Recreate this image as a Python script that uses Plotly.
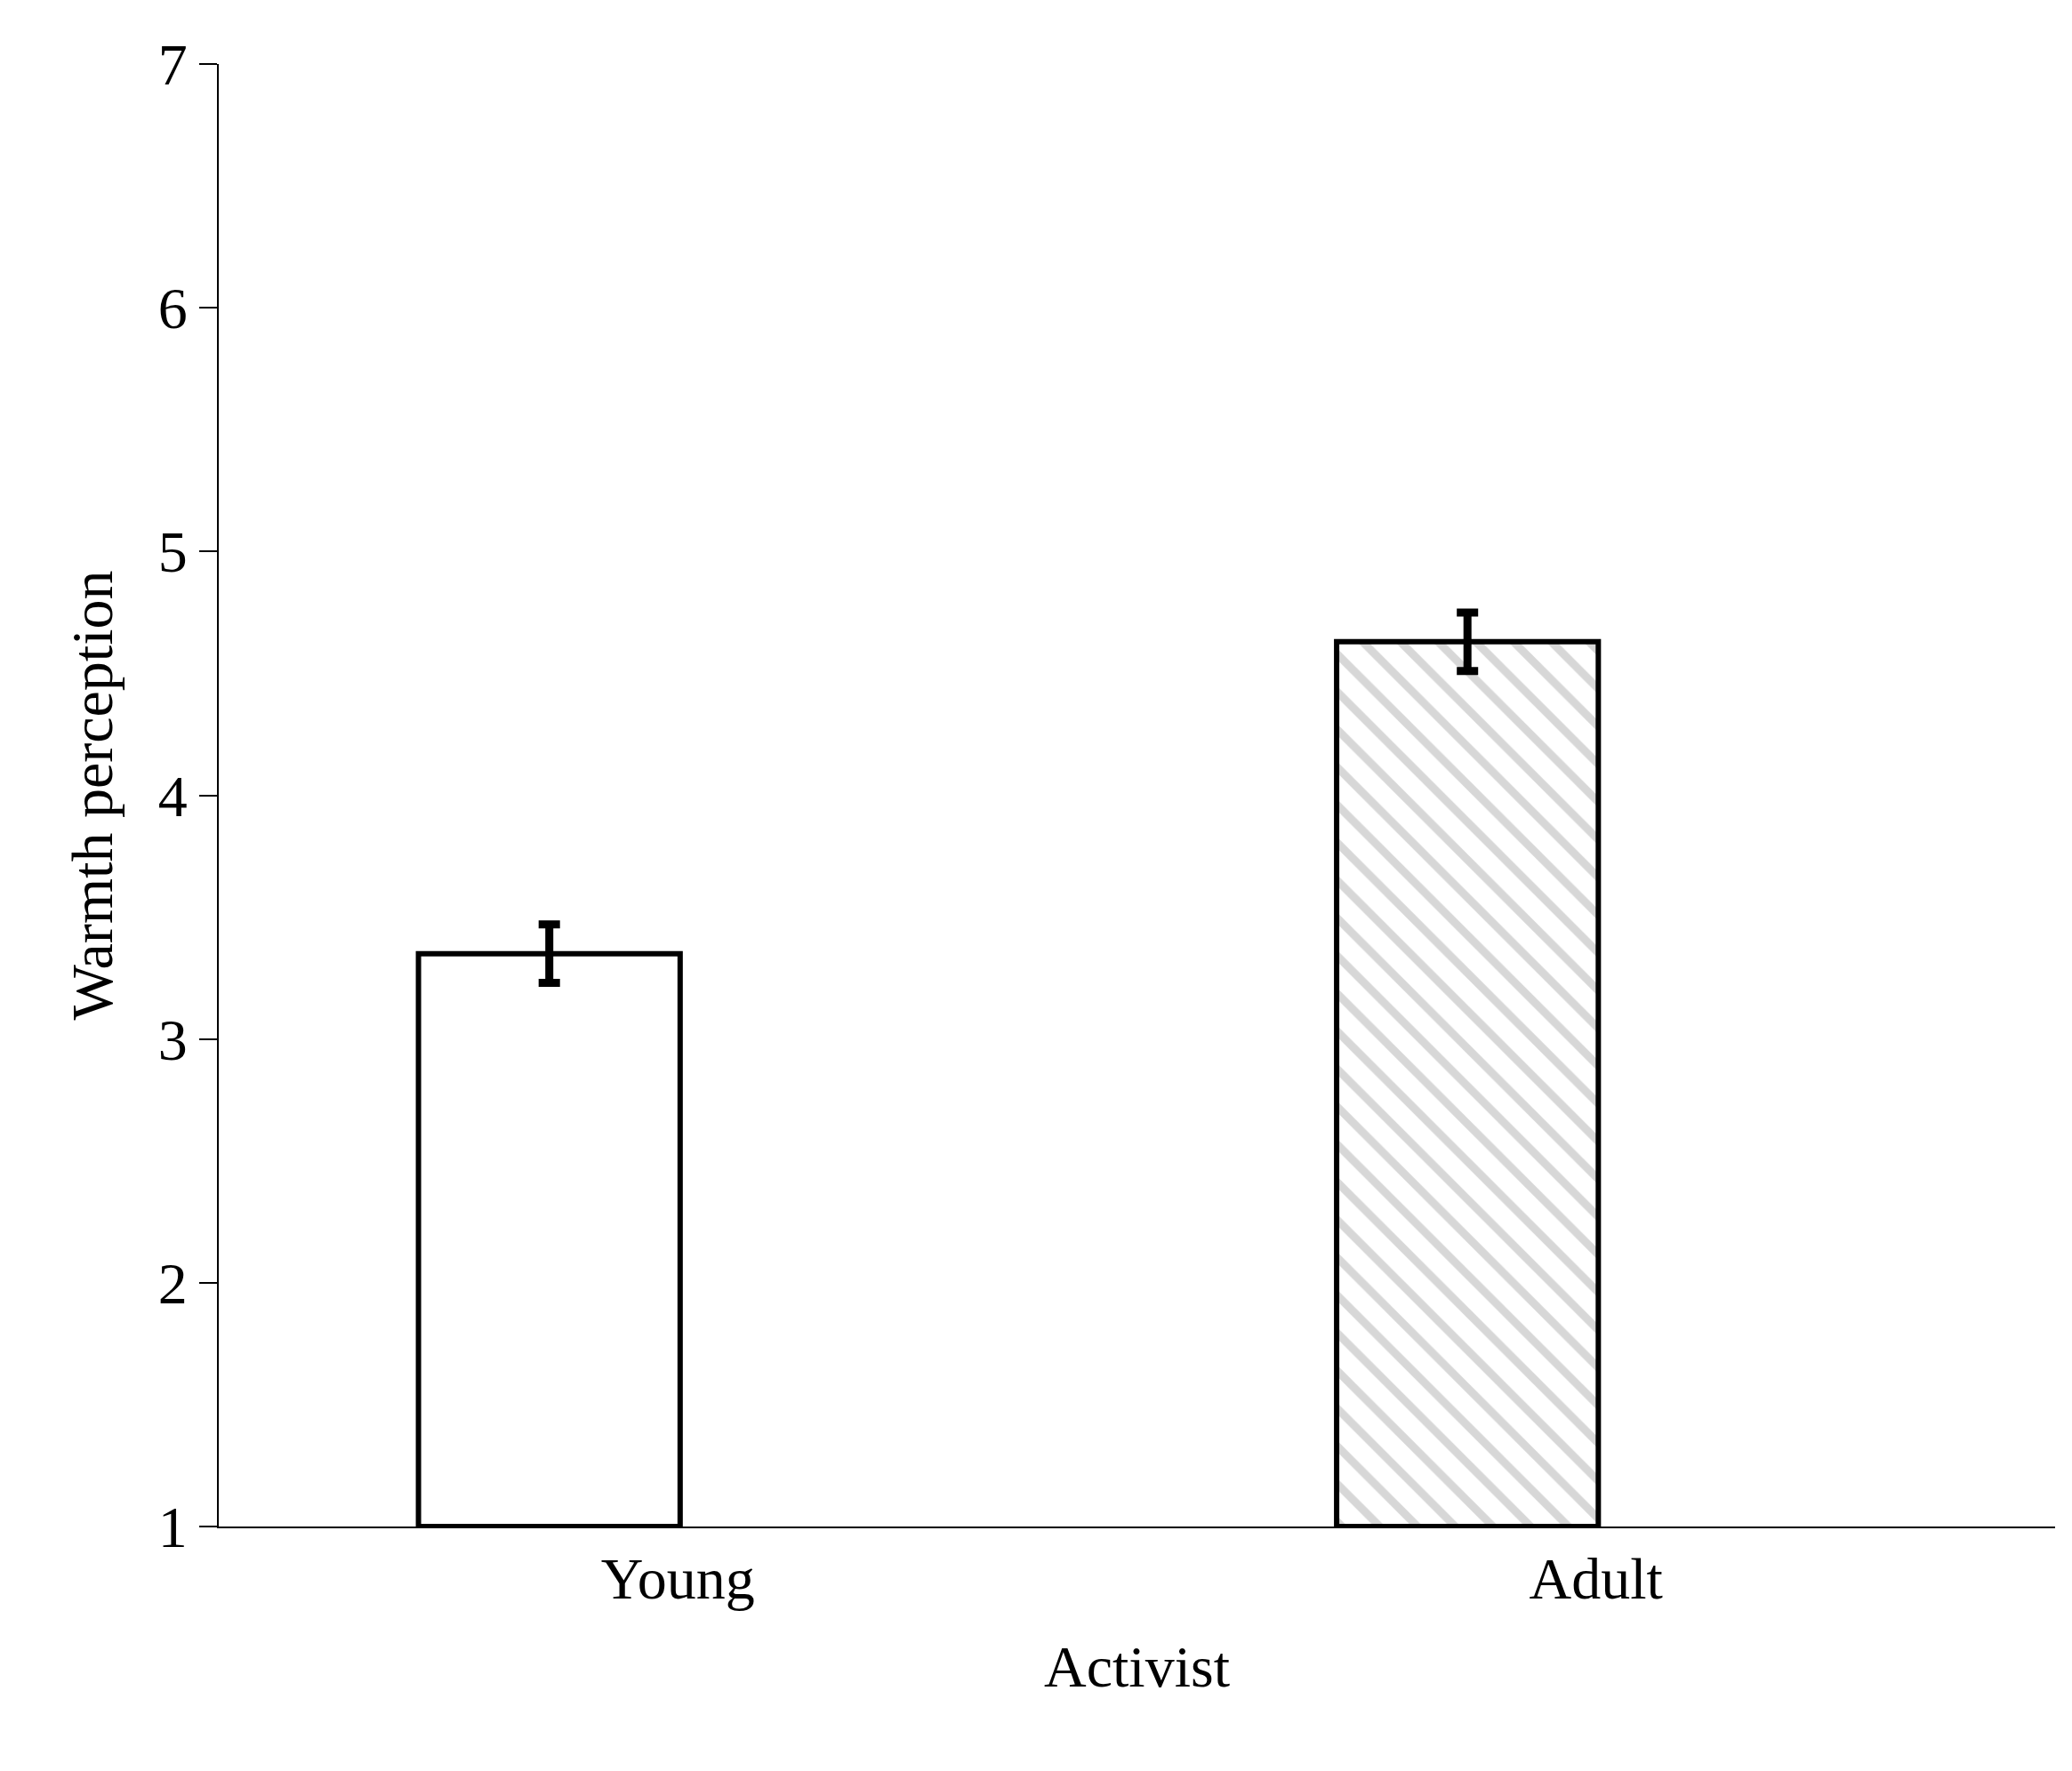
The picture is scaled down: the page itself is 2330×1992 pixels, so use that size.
import plotly.graph_objects as go

categories = ["Young", "Adult"]
values = [3.35, 4.63]
errors = [0.12, 0.12]
bar_pos = [0.36, 1.36]
tick_pos = [0.5, 1.5]
yticks = [1, 2, 3, 4, 5, 6, 7]

fig = go.Figure()
fig.add_trace(go.Bar(
    x=bar_pos, y=[v - 1 for v in values], base=1, width=0.285,
    marker=dict(color="white", line=dict(color="black", width=6),
                pattern=dict(shape=["", "\\"], fgcolor="#b0b0b0", bgcolor="white",
                             size=30, solidity=0.3)),
    error_y=dict(type="data", array=errors, color="black", thickness=9, width=12),
    showlegend=False,
))
font = dict(family="Liberation Serif, DejaVu Serif, serif", color="black")
fig.update_layout(
    width=2330, height=1992, plot_bgcolor="white", paper_bgcolor="white",
    margin=dict(l=238, r=27, t=64, b=283),
    font=dict(**font, size=60),
    xaxis=dict(range=[0, 2], tickvals=tick_pos, ticktext=categories, showline=True,
               linecolor="black", linewidth=2, ticks="", showgrid=False, zeroline=False,
               title=dict(text="Activist", font=dict(size=66), standoff=40),
               tickfont=dict(size=66)),
    yaxis=dict(range=[1, 7], tickvals=yticks, showline=True, linecolor="black",
               linewidth=2, ticks="outside", ticklen=20, tickwidth=2, tickcolor="black",
               showgrid=False, zeroline=False,
               title=dict(text="Warmth perception", font=dict(size=66), standoff=30),
               tickfont=dict(size=66)),
)
fig.write_html("out.html")
